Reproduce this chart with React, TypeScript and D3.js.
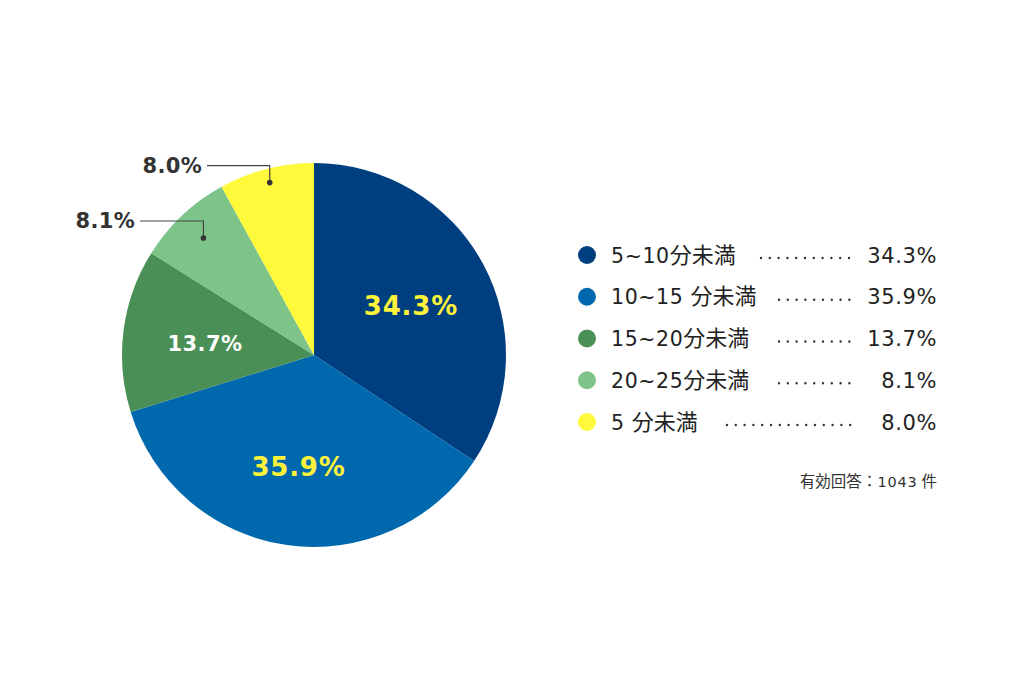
import { useEffect } from 'react'
import * as d3 from 'd3'

const categories = ['5~10分未満', '10~15 分未満', '15~20分未満', '20~25分未満', '5 分未満']
const values = [34.3, 35.9, 13.7, 8.1, 8.0]
const colors = ['#003f7f', '#0068ad', '#4a8f55', '#7ec488', '#fff93c']
const inLabelColors = ['#fff23a', '#fff23a', '#ffffff', null, null]
const footnote = ['有効回答：', '1043', '件']

const width = 1024
const height = 683
const cx = 314
const cy = 355
const radius = 192

export default function App() {
  useEffect(() => {
    document.body.style.margin = '0'
  }, [])

  const pie = d3.pie<number>().sort(null).value((d) => d)
  const arcs = pie(values)
  const arcGen = d3.arc<d3.PieArcDatum<number>>().innerRadius(0).outerRadius(radius)
  const labelArc = d3.arc<d3.PieArcDatum<number>>().innerRadius(110).outerRadius(110)

  const fmt = (v: number) => `${v.toFixed(1)}%`
  const legendY = d3.scalePoint<number>().domain(d3.range(values.length)).range([255, 422])

  // outside labels for small slices: dot radius and label anchor
  const leaders = [
    { idx: 3, r: 161, lx: 140 },
    { idx: 4, r: 178, lx: 207 },
  ]

  const dotStarts = [761, 779, 779, 779, 727]
  const font = '"DejaVu Sans", "Noto Sans CJK JP", sans-serif'
  const cjkFont = '"Noto Sans CJK JP", sans-serif'

  // split legend labels so Latin parts use the wide font, CJK parts the CJK font
  const parts = (s: string) => s.split(/(分未満)/).filter((p) => p !== '')

  return (
    <svg width={width} height={height} style={{ display: 'block', background: '#fff' }} fontFamily={font}>
      <g transform={`translate(${cx},${cy})`}>
        {arcs.map((a, i) => (
          <path key={i} d={arcGen(a) ?? ''} fill={colors[i]} />
        ))}
        {arcs.map((a, i) => {
          const col = inLabelColors[i]
          if (!col) return null
          const [x, y] = labelArc.centroid(a)
          return (
            <text
              key={`l-${i}`}
              x={x}
              y={y + 3}
              textAnchor="middle"
              dominantBaseline="central"
              fill={col}
              fontWeight={700}
              fontSize={i === 2 ? 21 : 26}
              letterSpacing={i === 2 ? 0.4 : 0.8}
            >
              {fmt(values[i])}
            </text>
          )
        })}
        {leaders.map(({ idx, r, lx }) => {
          const a = arcs[idx]
          const mid = (a.startAngle + a.endAngle) / 2
          const dx = Math.sin(mid) * r
          const dy = -Math.cos(mid) * r
          const ly = dy - 17
          return (
            <g key={`ld-${idx}`}>
              <polyline
                points={`${lx - cx},${ly} ${dx},${ly} ${dx},${dy}`}
                fill="none"
                stroke="#444"
                strokeWidth={1.2}
              />
              <circle cx={dx} cy={dy} r={2.8} fill="#333" />
              <text
                x={lx - cx - 5}
                y={ly}
                textAnchor="end"
                dominantBaseline="central"
                fill="#333"
                fontWeight={700}
                fontSize={21}
                letterSpacing={0.3}
              >
                {fmt(values[idx])}
              </text>
            </g>
          )
        })}
      </g>
      <g>
        {categories.map((c, i) => {
          const y = legendY(i) ?? 0
          return (
            <g key={`lg-${i}`}>
              <circle cx={587} cy={y} r={9} fill={colors[i]} />
              <text x={611} y={y + 7.5} fill="#222">
                {parts(c).map((p, k) => (
                  <tspan
                    key={k}
                    fontFamily={p === '分未満' ? cjkFont : font}
                    fontSize={p === '分未満' ? 22 : 20.5}
                    letterSpacing={p === '分未満' ? 0 : 0.6}
                  >
                    {p}
                  </tspan>
                ))}
              </text>
              <line
                x1={dotStarts[i]}
                x2={852}
                y1={y + 3}
                y2={y + 3}
                stroke="#333"
                strokeWidth={2.4}
                strokeLinecap="round"
                strokeDasharray="0 8.8"
              />
              <text x={937} y={y + 7.5} textAnchor="end" fontSize={21} letterSpacing={0.6} fill="#222">
                {fmt(values[i])}
              </text>
            </g>
          )
        })}
        <text x={937} y={487} textAnchor="end" fill="#333">
          <tspan fontFamily={cjkFont} fontSize={15.5}>{footnote[0]}</tspan>
          <tspan fontSize={14.5} letterSpacing={0.8}>{footnote[1]}</tspan>
          <tspan fontFamily={cjkFont} fontSize={15.5} dx={4}>{footnote[2]}</tspan>
        </text>
      </g>
    </svg>
  )
}
